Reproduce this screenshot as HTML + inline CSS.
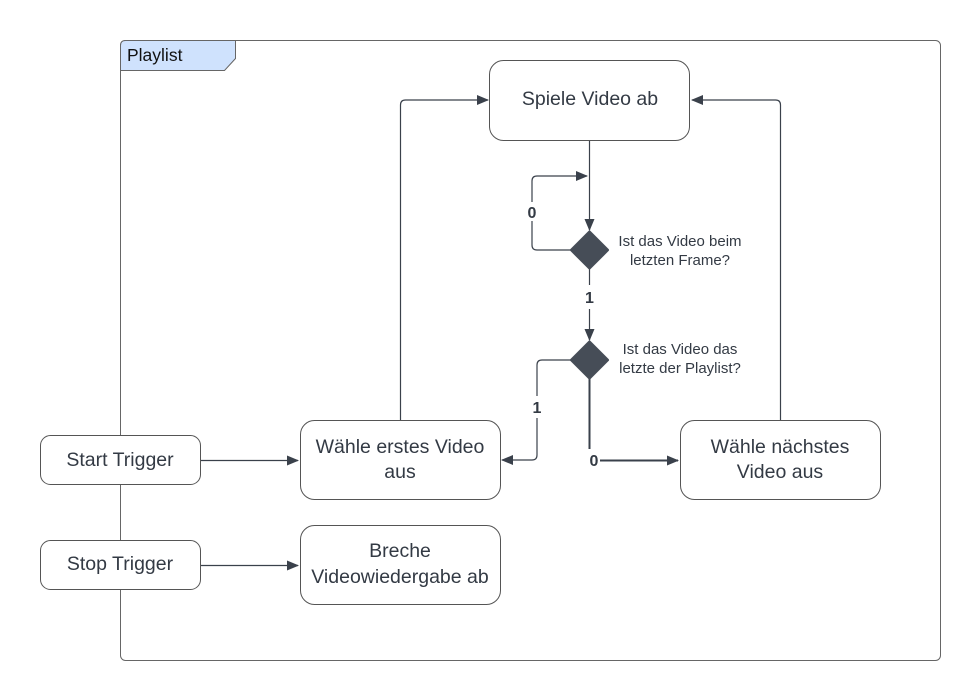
<!DOCTYPE html>
<html><head><meta charset="utf-8"><style>
html,body{margin:0;padding:0;background:#fff;width:980px;height:700px;overflow:hidden}
svg text{font-family:"Liberation Sans",sans-serif;fill:#333a44}
</style></head><body>
<svg width="980" height="700" viewBox="0 0 980 700" xmlns="http://www.w3.org/2000/svg">
<defs>
<marker id="a" markerWidth="12" markerHeight="10" refX="11" refY="5" orient="auto" markerUnits="userSpaceOnUse">
<path d="M0,0 L12,5 L0,10 Z" fill="#3a414b"/></marker>
</defs>
<rect x="120.5" y="40.5" width="820" height="620" rx="5" fill="none" stroke="#666" stroke-width="1"/>
<path d="M120.5,70.5 V45.5 Q120.5,40.5 125.5,40.5 H235.5 V58.5 L224.5,70.5 Z" fill="#cfe2fd" stroke="#666" stroke-width="1"/>
<text x="127" y="61" font-size="17.5" style="fill:#111">Playlist</text>

<g fill="none" stroke="#3a414b" stroke-width="1.2">
<path d="M589.5,140 V230" marker-end="url(#a)"/>
<path d="M572,250 H537 Q532,250 532,245 V221"/>
<path d="M532,202 V181 Q532,176 537,176 H587" marker-end="url(#a)"/>
<path d="M589.5,268 V285"/>
<path d="M589.5,309 V340" marker-end="url(#a)"/>
<path d="M572,360 H542 Q537,360 537,365 V396"/>
<path d="M537,418 V455 Q537,460 532,460 H502" marker-end="url(#a)"/>
<path d="M400.5,420 V105 Q400.5,100 405.5,100 H488" marker-end="url(#a)"/>
<path d="M780.5,420 V105 Q780.5,100 775.5,100 H692" marker-end="url(#a)"/>
<path d="M200,460.5 H298" marker-end="url(#a)"/>
<path d="M200,565.5 H298" marker-end="url(#a)"/>
</g>
<g fill="none" stroke="#3a414b" stroke-width="2">
<path d="M589.5,378 V449"/>
<path d="M600,460.5 H678" marker-end="url(#a)"/>
</g>

<path d="M589.5,232 L607.5,250 L589.5,268 L571.5,250 Z" fill="#464d57" stroke="#464d57" stroke-linejoin="round" stroke-width="3"/>
<path d="M589.5,342 L607.5,360 L589.5,378 L571.5,360 Z" fill="#464d57" stroke="#464d57" stroke-linejoin="round" stroke-width="3"/>

<g font-size="16" font-weight="bold">
<text x="532" y="218" text-anchor="middle">0</text>
<text x="589.5" y="303" text-anchor="middle">1</text>
<text x="537" y="413" text-anchor="middle">1</text>
<text x="594" y="466" text-anchor="middle">0</text>
</g>
<g font-size="15" text-anchor="middle">
<text x="680" y="246">Ist das Video beim</text>
<text x="680" y="265">letzten Frame?</text>
<text x="680" y="354">Ist das Video das</text>
<text x="680" y="373">letzte der Playlist?</text>
</g>

<g fill="#fff" stroke="#555" stroke-width="1">
<rect x="489.5" y="60.5" width="200" height="80" rx="14"/>
<rect x="300.5" y="420.5" width="200" height="79" rx="14"/>
<rect x="680.5" y="420.5" width="200" height="79" rx="14"/>
<rect x="300.5" y="525.5" width="200" height="79" rx="14"/>
<rect x="40.5" y="435.5" width="160" height="49" rx="10"/>
<rect x="40.5" y="540.5" width="160" height="49" rx="10"/>
</g>
<g font-size="19.5" text-anchor="middle">
<text x="590" y="105">Spiele Video ab</text>
<text x="400" y="453">Wähle erstes Video</text>
<text x="400" y="478">aus</text>
<text x="780" y="453">Wähle nächstes</text>
<text x="780" y="478">Video aus</text>
<text x="400" y="557">Breche</text>
<text x="400" y="583">Videowiedergabe ab</text>
<text x="120" y="466">Start Trigger</text>
<text x="120" y="570">Stop Trigger</text>
</g>
</svg>
</body></html>
